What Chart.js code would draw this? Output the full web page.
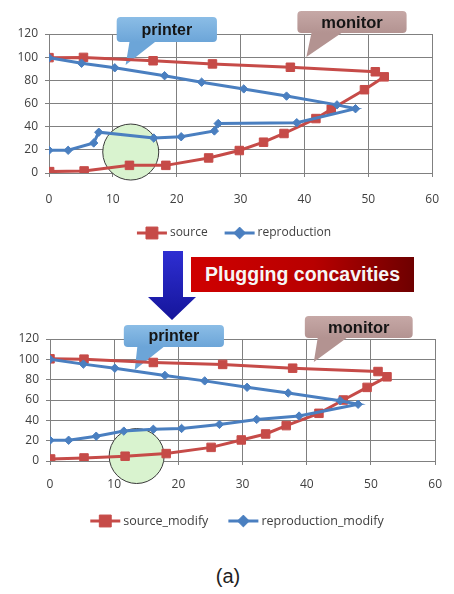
<!DOCTYPE html>
<html>
<head>
<meta charset="utf-8">
<script src="https://cdn.jsdelivr.net/npm/chart.js@4/dist/chart.umd.min.js"></script>
<style>
  html, body { margin: 0; padding: 0; background: #fff; width: 454px; height: 594px; overflow: hidden; }
  .chartbox { position: absolute; left: 0; width: 454px; }
  #top { top: 0; height: 250px; }
  #bottom { top: 300px; height: 245px; }
  #arrow { position: absolute; left: 0; top: 0; }
  #banner {
    position: absolute; left: 191px; top: 257px; width: 223px; height: 35px;
    background: linear-gradient(to right, #cf0000 0%, #b80000 55%, #6e0000 100%);
    color: #f6f6f6; font: bold 19.5px "Liberation Sans", Arial, sans-serif;
    line-height: 35px; text-align: center; white-space: nowrap;
  }
  #caption {
    position: absolute; left: 0; width: 456px; top: 563px; text-align: center;
    font: 20px "Liberation Sans", Arial, sans-serif; color: #222; line-height: 26px;
  }
</style>
</head>
<body>
<div class="chartbox" id="top"><canvas id="c1" width="454" height="250"></canvas></div>
<div class="chartbox" id="bottom"><canvas id="c2" width="454" height="245"></canvas></div>
<svg id="arrow" width="454" height="330">
  <defs>
    <linearGradient id="ag" x1="0" y1="0" x2="0" y2="1">
      <stop offset="0" stop-color="#2e2ed2"/>
      <stop offset="1" stop-color="#15159a"/>
    </linearGradient>
  </defs>
  <polygon points="163,251 183,251 183,297 196,297 172,320 148,297 163,297" fill="url(#ag)"/>
</svg>
<div id="banner">Plugging concavities</div>
<div id="caption">(a)</div>

<script>
// Gamut boundary samples: x = chroma, y = lightness
const sourceX = [0, 5.4, 16.3, 25.6, 37.8, 51.1, 52.5, 49.4, 44.2, 41.8, 36.8, 33.6, 29.8, 25.0, 18.3, 12.6, 5.5, 0.1];
const sourceY = [99.6, 99.8, 96.9, 94.2, 91.3, 87.4, 83.0, 71.9, 55.0, 47.0, 34.1, 26.6, 19.4, 13.0, 6.6, 6.6, 1.8, 1.2];

const reproX = [0, 5.1, 10.3, 18.1, 23.9, 30.5, 37.2, 45.1, 48.0, 38.8, 26.5, 25.9, 20.7, 16.4, 7.8, 7.0, 3.0, 0];
const reproY = [99.5, 94.7, 90.8, 84.0, 78.4, 72.6, 66.4, 58.8, 55.5, 43.4, 42.7, 36.3, 31.3, 30.2, 35.2, 25.9, 19.6, 19.6];

// After the concave regions have been filled in
const sourceModX = [0, 5.3, 16.1, 26.9, 37.8, 51.1, 52.5, 49.4, 45.7, 41.9, 36.8, 33.6, 29.8, 25.1, 18.1, 11.7, 5.3, 0.1];
const sourceModY = [100.5, 100.2, 96.9, 95.0, 91.3, 88.0, 82.8, 72.4, 60.0, 46.9, 34.8, 26.6, 20.7, 13.4, 7.3, 4.7, 3.0, 2.0];

const reproModX = [0, 5.2, 10.1, 17.9, 24.1, 30.7, 37.1, 45.2, 48.0, 38.8, 32.2, 26.4, 20.5, 16.1, 11.5, 7.2, 2.9, 0];
const reproModY = [100, 95.3, 91.3, 84.2, 78.8, 72.5, 66.9, 59.3, 55.8, 44.2, 40.9, 36.0, 32.0, 31.2, 29.4, 24.4, 20.4, 20.4];

const topLabels = ['source', 'reproduction'];
const bottomLabels = ['source_modify', 'reproduction_modify'];

const xRange = [0, 60], xStep = 10;
const yRange = [0, 120], yStep = 20;

const RED = '#c64b48';
const BLUE = '#4a7fc0';
const GRID = '#808080';
const TICK_FONT = { family: '"Open Sans", "Liberation Sans", sans-serif', size: 12 };

const toPoints = (xs, ys) => xs.map((x, i) => ({ x: x, y: ys[i] }));

function drawCallout(ctx, xs, ys, co) {
  const l = xs.getPixelForValue(co.x0), r = xs.getPixelForValue(co.x1);
  const t = ys.getPixelForValue(co.y1), b = ys.getPixelForValue(co.y0);
  const bl = xs.getPixelForValue(co.base[0]), br = xs.getPixelForValue(co.base[1]);
  const tx = xs.getPixelForValue(co.tip[0]), ty = ys.getPixelForValue(co.tip[1]);
  const rad = 4;
  ctx.save();
  ctx.beginPath();
  ctx.moveTo(l + rad, t);
  ctx.lineTo(r - rad, t); ctx.arcTo(r, t, r, t + rad, rad);
  ctx.lineTo(r, b - rad); ctx.arcTo(r, b, r - rad, b, rad);
  ctx.lineTo(br, b); ctx.lineTo(tx, ty); ctx.lineTo(bl, b);
  ctx.lineTo(l + rad, b); ctx.arcTo(l, b, l, b - rad, rad);
  ctx.lineTo(l, t + rad); ctx.arcTo(l, t, l + rad, t, rad);
  ctx.closePath();
  const g = ctx.createLinearGradient(0, t, 0, b);
  g.addColorStop(0, co.colors[0]);
  g.addColorStop(1, co.colors[1]);
  ctx.fillStyle = g;
  ctx.fill();
  ctx.font = 'bold ' + co.size + 'px "Liberation Sans", Arial, sans-serif';
  ctx.fillStyle = '#151515';
  ctx.textAlign = 'center';
  ctx.textBaseline = 'middle';
  ctx.fillText(co.text, (l + r) / 2, (t + b) / 2 + 1);
  ctx.restore();
}

function drawLegend(chart, lg) {
  const ctx = chart.ctx;
  ctx.save();
  ctx.font = lg.fontSize + 'px "Open Sans", "Liberation Sans", sans-serif';
  const sets = chart.data.datasets;
  const items = sets.map(ds => ({ ds: ds, tw: ctx.measureText(ds.label).width }));
  const markW = 30, textGap = 3;
  const total = items.reduce((s, it) => s + markW + textGap + it.tw, 0) + lg.gap * (items.length - 1);
  let x = lg.cx - total / 2;
  items.forEach(it => {
    const ds = it.ds;
    ctx.strokeStyle = ds.borderColor;
    ctx.lineWidth = 3;
    ctx.beginPath();
    ctx.moveTo(x, lg.y);
    ctx.lineTo(x + markW, lg.y);
    ctx.stroke();
    ctx.fillStyle = ds.backgroundColor;
    ctx.strokeStyle = ds.borderColor;
    ctx.lineWidth = 1;
    Chart.helpers.drawPoint(ctx, { pointStyle: ds.pointStyle, radius: ds.pointRadius * 1.4, borderWidth: 1, rotation: 0 }, x + markW / 2, lg.y);
    ctx.fillStyle = '#404040';
    ctx.textAlign = 'left';
    ctx.textBaseline = 'middle';
    ctx.fillText(ds.label, x + markW + textGap, lg.y);
    x += markW + textGap + it.tw + lg.gap;
  });
  ctx.restore();
}

const decorPlugin = {
  id: 'decor',
  beforeDatasetsDraw(chart, args, opts) {
    const ctx = chart.ctx, xs = chart.scales.x, ys = chart.scales.y;
    const c = opts.circle;
    ctx.save();
    ctx.beginPath();
    ctx.arc(xs.getPixelForValue(c.x), ys.getPixelForValue(c.y), c.r, 0, Math.PI * 2);
    ctx.fillStyle = '#d9f3cf';
    ctx.fill();
    ctx.lineWidth = 1;
    ctx.strokeStyle = '#3a3a3a';
    ctx.stroke();
    ctx.restore();
    opts.callouts.forEach(co => drawCallout(ctx, xs, ys, co));
  },
  afterDraw(chart, args, opts) {
    drawLegend(chart, opts.legend);
  }
};

function makeChart(id, cfg) {
  return new Chart(document.getElementById(id), {
    type: 'scatter',
    data: {
      datasets: [
        {
          label: cfg.labels[0], data: toPoints(cfg.sx, cfg.sy),
          showLine: true, borderColor: RED, backgroundColor: RED, borderWidth: 3,
          pointStyle: 'rect', pointRadius: 6, pointBorderWidth: 1, pointBorderColor: RED,
          order: 2
        },
        {
          label: cfg.labels[1], data: toPoints(cfg.rx, cfg.ry),
          showLine: true, borderColor: BLUE, backgroundColor: BLUE, borderWidth: 3,
          pointStyle: 'rectRot', pointRadius: 4.2, pointBorderWidth: 1, pointBorderColor: BLUE,
          order: 1
        }
      ]
    },
    options: {
      responsive: false,
      animation: false,
      layout: { padding: cfg.padding },
      plugins: {
        legend: { display: false },
        tooltip: { enabled: false },
        decor: cfg.decor
      },
      scales: {
        x: {
          type: 'linear', min: xRange[0], max: xRange[1],
          ticks: { stepSize: xStep, padding: cfg.xTickPad, color: '#404040', font: TICK_FONT, maxRotation: 0 },
          grid: { color: GRID, tickLength: 4, lineWidth: 1 },
          border: { color: GRID },
          afterFit: s => { s.height = cfg.xAxisHeight; }
        },
        y: {
          type: 'linear', min: yRange[0], max: yRange[1],
          ticks: { stepSize: yStep, padding: 7, color: '#404040', font: TICK_FONT },
          grid: { color: GRID, tickLength: 4, lineWidth: 1 },
          border: { color: GRID },
          afterFit: s => { s.width = cfg.yAxisWidth; }
        }
      }
    },
    plugins: [decorPlugin]
  });
}

const PRINTER_COLORS = ['#8bbde6', '#6ca5d8'];
const MONITOR_COLORS = ['#c6a8a6', '#b39391'];

makeChart('c1', {
  sx: sourceX, sy: sourceY, rx: reproX, ry: reproY, labels: topLabels,
  padding: { top: 34, right: 15, left: 0, bottom: 0 },
  yAxisWidth: 49, xAxisHeight: 77, xTickPad: 15,
  decor: {
    circle: { x: 12.8, y: 18.1, r: 28 },
    callouts: [
      { text: 'printer', size: 16, x0: 10.6, x1: 26.3, y0: 113.1, y1: 134.7, base: [12.6, 16.6], tip: [12.0, 93.2], colors: PRINTER_COLORS },
      { text: 'monitor', size: 16.5, x0: 38.9, x1: 56.0, y0: 120.9, y1: 139.9, base: [41.1, 45.8], tip: [40.3, 100.1], colors: MONITOR_COLORS }
    ],
    legend: { cx: 234, y: 233, gap: 17, fontSize: 12 }
  }
});

makeChart('c2', {
  sx: sourceModX, sy: sourceModY, rx: reproModX, ry: reproModY, labels: bottomLabels,
  padding: { top: 39, right: 8, left: 0, bottom: 0 },
  yAxisWidth: 50, xAxisHeight: 84, xTickPad: 12,
  decor: {
    circle: { x: 13.5, y: 4.9, r: 27.5 },
    callouts: [
      { text: 'printer', size: 16, x0: 11.5, x1: 27.1, y0: 112.1, y1: 133.8, base: [13.6, 17.7], tip: [13.2, 89.5], colors: PRINTER_COLORS },
      { text: 'monitor', size: 16.5, x0: 39.7, x1: 56.5, y0: 121.0, y1: 142.6, base: [41.7, 46.2], tip: [41.1, 97.4], colors: MONITOR_COLORS }
    ],
    legend: { cx: 237, y: 221, gap: 20, fontSize: 12.5 }
  }
});
</script>
</body>
</html>
